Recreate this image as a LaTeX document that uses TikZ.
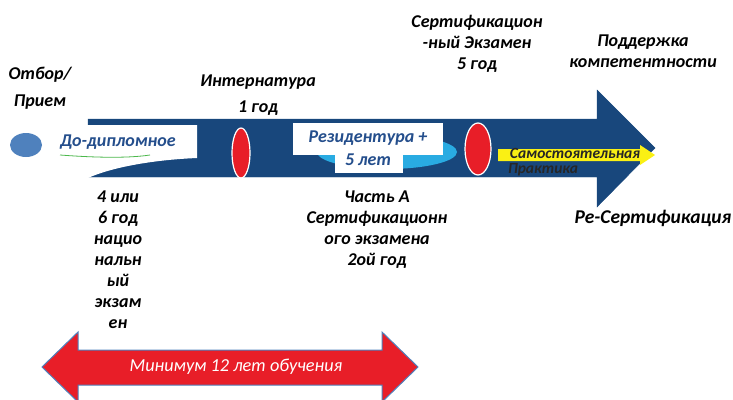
\documentclass[tikz,border=0pt]{standalone}
\usepackage{fontspec}
\setmainfont{Carlito}
\usetikzlibrary{calc}
\definecolor{navy}{RGB}{24,71,124}
\definecolor{labelblue}{RGB}{36,78,140}
\definecolor{dotblue}{RGB}{79,129,189}
\definecolor{skyblue}{RGB}{41,171,226}
\definecolor{markred}{RGB}{232,30,40}
\definecolor{lineyellow}{RGB}{250,240,20}
\tikzset{
  txt/.style={font=\bfseries\itshape\fontsize{18}{21}\selectfont, align=center, text=black, inner sep=0pt},
  boxtxt/.style={font=\bfseries\itshape\fontsize{18}{22}\selectfont, align=center, text=labelblue, inner sep=0pt},
  redmark/.style={fill=markred, draw=white, line width=1.2pt}
}

\begin{document}
\begin{tikzpicture}[x=1pt, y=-1pt]
			%%%%% START %%%%%
			\useasboundingbox (0, 0) rectangle (733, 399);
			
			% main arrow
			\draw[fill=navy, draw=navy] (88, 119) -- (597, 119) -- (597, 90) -- (655, 148) -- (597, 207) -- (597, 177) -- (88, 177) -- cycle;
			
			% white label at the tail
			\fill[white] (45, 125) -- (197, 125) -- (197, 158) .. controls (150, 160) and (110, 168) .. (88, 178) -- (45, 178) -- cycle;
			\draw[green!60!black!70, line width=0.8pt] (60, 155) .. controls (100, 158) and (130, 158) .. (150, 155);
			\node[boxtxt] (predip) at (118, 142) {До-дипломное};
			
			% start point
			\fill[dotblue] (26, 145) ellipse (16 and 12);
			
			% residency label
			\fill[skyblue] (387, 152) ellipse (70 and 17);
			\fill[white] (293, 123) rectangle (443, 155);
			\fill[white] (335, 150) rectangle (403, 173);
			\node[boxtxt] (resid) at (368, 138) {Резидентура +};
			\node[boxtxt] (residyr) at (368, 160) {5 лет};
			
			% markers
			\draw[redmark] (241, 153) ellipse (9 and 25);
			\draw[redmark] (478, 149) ellipse (13 and 26);
			
			% practice arrow
			\fill[lineyellow] (498, 149) -- (640, 149) -- (640, 145) -- (655, 155) -- (640, 165) -- (640, 161) -- (498, 161) -- cycle;
			\node[txt, font=\bfseries\itshape\fontsize{15.5}{17}\selectfont, text=black!85] (pract) at (575, 153) {Самостоятельная};
			\node[txt, font=\bfseries\itshape\fontsize{15.5}{17}\selectfont, text=black!85] (practb) at (543, 170) {Практика};
			
			% texts
			\node[txt] (sel) at (40, 75) {Отбор/};
			\node[txt] (adm) at (40, 102) {Прием};
			\node[txt] (intern) at (258, 82) {Интернатура};
			\node[txt] (internyr) at (258, 108) {1 год};
			\node[txt] (exam) at (477, 44) {Сертификацион\\-ный Экзамен\\5 год};
			\node[txt] (supp) at (643, 51) {Поддержка\\компетентности};
			\node[txt] (parta) at (377, 230) {Часть А\\Сертификационн\\ого экзамена\\2ой год};
			\node[txt] (natexam) at (118, 260) {4 или\\6 год\\нацио\\нальн\\ый\\экзам\\ен};
			\node[txt, font=\bfseries\itshape\fontsize{19.5}{22}\selectfont] (recert) at (653, 218) {Ре-Сертификация};
			
			% minimum span
			\draw[fill=markred, draw=dotblue, line width=1pt] (42, 367) -- (78, 332) -- (78, 350) -- (382, 350) -- (382, 332) -- (418, 367) -- (382, 402) -- (382, 385) -- (78, 385) -- (78, 402) -- cycle;
			\node[txt, text=white, font=\itshape\fontsize{18.3}{20}\selectfont] (span) at (236, 367) {Минимум 12 лет обучения};
			
			%%%%% END %%%%%
\end{tikzpicture}
\end{document}
